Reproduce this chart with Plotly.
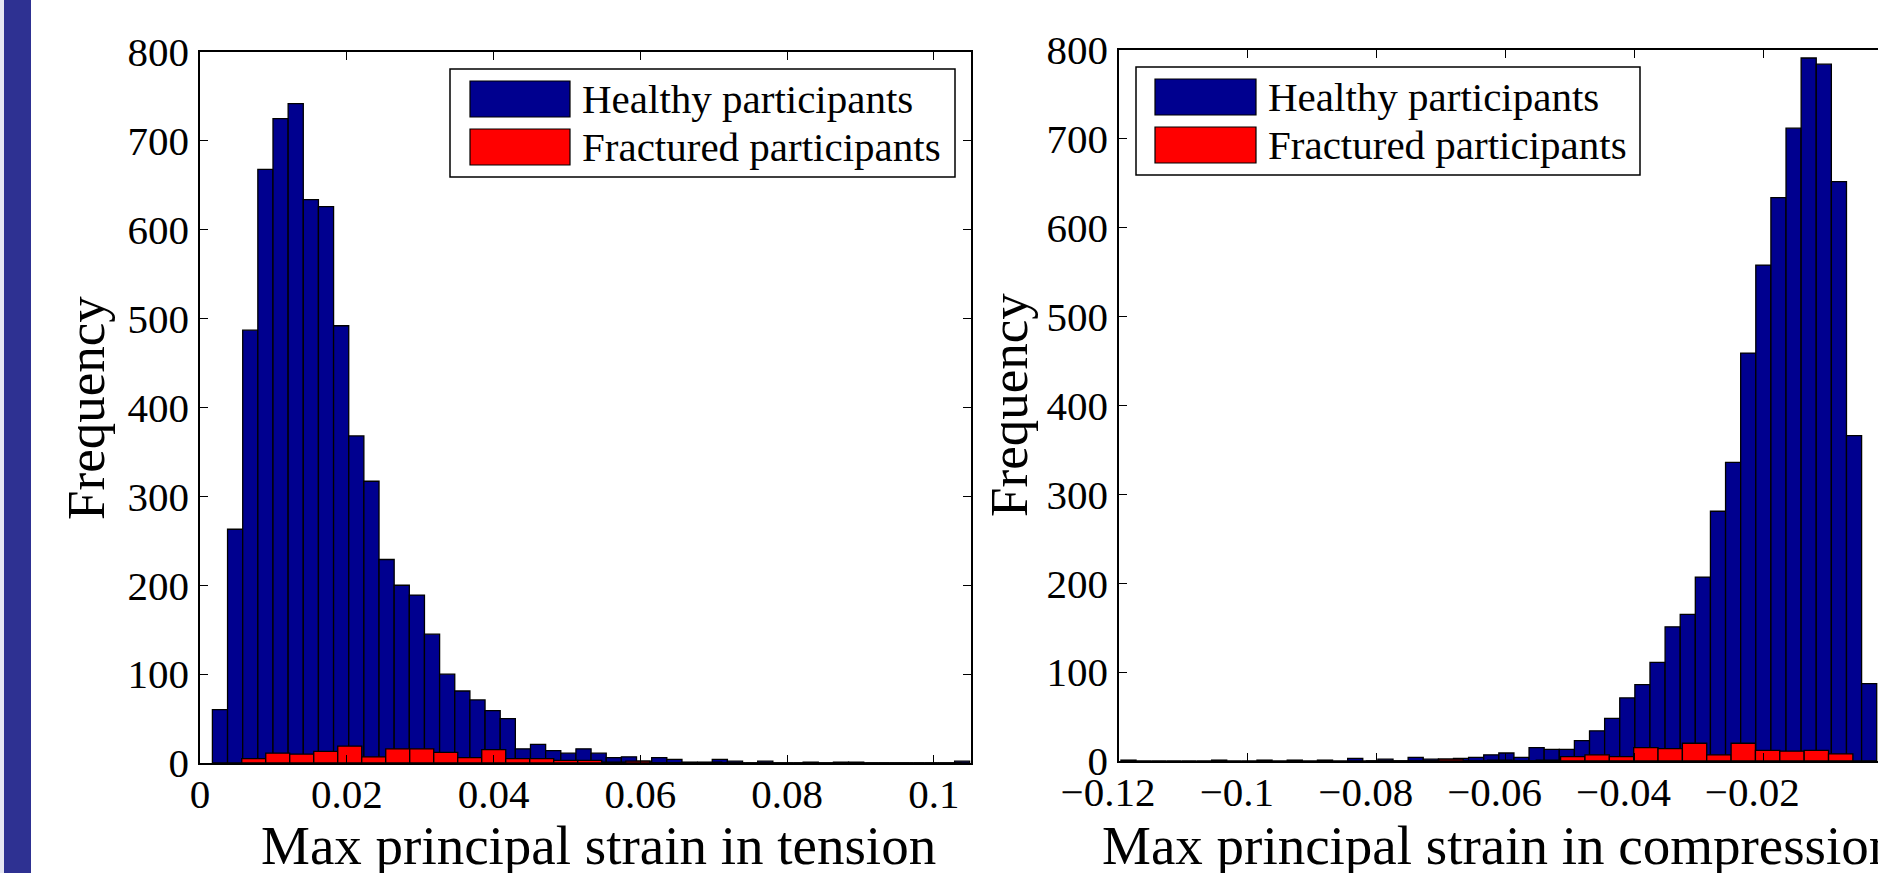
import numpy as np
import plotly.graph_objects as go

W, H = 1878, 873

# ---------------- data ----------------
# Left panel: max principal strain in tension (50 healthy bins, 30 fractured bins)
tension_healthy_range = (0.00169, 0.1049)
tension_healthy_counts = [60, 263, 487, 668, 725, 742, 634, 626, 492, 368,
                          317, 229, 200, 189, 145, 100, 81, 71, 59, 50,
                          16, 21, 14, 11, 16, 11, 6, 7, 2, 6,
                          4, 1, 0, 4, 2, 0, 2, 0, 0, 1,
                          0, 1, 1, 0, 0, 0, 0, 0, 0, 2]
tension_fractured_range = (0.00569, 0.1038)
tension_fractured_counts = [5, 11, 10, 13, 19, 7, 16, 16, 12, 6,
                            15, 5, 5, 3, 3, 1, 2, 0, 0, 1,
                            0, 0, 0, 0, 0, 0, 0, 0, 0, 0]

# Right panel: max principal strain in compression
compression_healthy_range = (-0.1197, -0.0024)
compression_healthy_counts = [1, 0, 0, 0, 0, 0, 1, 0, 0, 1,
                              0, 1, 0, 1, 0, 3, 0, 2, 0, 4,
                              2, 2, 3, 4, 7, 9, 4, 15, 13, 13,
                              23, 34, 48, 71, 86, 111, 151, 165, 207, 281,
                              336, 459, 558, 634, 712, 791, 784, 652, 366, 87]
compression_fractured_range = (-0.0817, -0.0061)
compression_fractured_counts = [0, 0, 0, 2, 0, 1, 0, 1, 5, 7,
                                5, 15, 14, 20, 7, 20, 12, 11, 12, 8]

tension_ticks = [0, 0.02, 0.04, 0.06, 0.08, 0.1]
tension_ticktext = ["0", "0.02", "0.04", "0.06", "0.08", "0.1"]
compression_ticks = [-0.12, -0.1, -0.08, -0.06, -0.04, -0.02, 0]
compression_ticktext = ["\u22120.12", "\u22120.1", "\u22120.08", "\u22120.06", "\u22120.04", "\u22120.02", "0"]
freq_ticks = [0, 100, 200, 300, 400, 500, 600, 700, 800]

series_names = ["Healthy participants", "Fractured participants"]
xlabels = ["Max principal strain in tension", "Max principal strain in compression"]
ylabel = "Frequency"

BLUE = "#00008F"
RED = "#FF0000"
FONT = "Liberation Serif"


def bins(rng, counts):
    n = len(counts)
    w = (rng[1] - rng[0]) / n
    centers = rng[0] + w * (np.arange(n) + 0.5)
    return centers, w


def px(x):
    return x / W


def py(y):
    return 1 - y / H


fig = go.Figure()

for (rng, counts, color, name, xa, ya) in [
    (tension_healthy_range, tension_healthy_counts, BLUE, series_names[0], "x", "y"),
    (tension_fractured_range, tension_fractured_counts, RED, series_names[1], "x", "y"),
    (compression_healthy_range, compression_healthy_counts, BLUE, series_names[0], "x2", "y2"),
    (compression_fractured_range, compression_fractured_counts, RED, series_names[1], "x2", "y2"),
]:
    c, w = bins(rng, counts)
    fig.add_trace(go.Bar(x=c, y=counts, width=w, name=name, xaxis=xa, yaxis=ya,
                         marker=dict(color=color, line=dict(color="black", width=1.3)),
                         showlegend=False))

axis_common = dict(showgrid=False, zeroline=False, showline=True, linecolor="black", linewidth=1.5,
                   ticks="inside", ticklen=8, tickwidth=1, tickcolor="black", automargin=False,
                   tickfont=dict(family=FONT, size=41, color="black"))

fig.update_layout(
    width=W, height=H, margin=dict(l=0, r=0, t=0, b=0, pad=0, autoexpand=False),
    paper_bgcolor="white", plot_bgcolor="white", barmode="overlay",
    xaxis=dict(domain=[px(200), px(970.5)], range=[0, 0.105], anchor="y", mirror="ticks",
               tickvals=tension_ticks, ticktext=tension_ticktext, ticklabelstandoff=-6, **axis_common),
    yaxis=dict(domain=[py(763), py(52)], range=[0, 800], anchor="x", mirror="ticks",
               tickvals=freq_ticks, ticklabelstandoff=1, **axis_common),
    xaxis2=dict(domain=[px(1119), 1.0], range=[-0.12, -0.0022], anchor="y2", mirror="ticks",
                tickvals=compression_ticks, ticktext=compression_ticktext, ticklabelstandoff=-6,
                ticklabelshift=-11, **axis_common),
    yaxis2=dict(domain=[py(761), py(50)], range=[0, 800], anchor="x2", mirror=False,
                tickvals=freq_ticks, ticklabelstandoff=1, **axis_common),
)

shapes = []
# left decorative strip
shapes.append(dict(type="rect", xref="paper", yref="paper", x0=0, x1=px(4), y0=0, y1=1,
                   fillcolor="#E6E7F3", line=dict(width=0), layer="below"))
shapes.append(dict(type="rect", xref="paper", yref="paper", x0=px(4), x1=px(31), y0=0, y1=1,
                   fillcolor="#2E3192", line=dict(width=0), layer="below"))

annotations = []
# legends (drawn manually to match Matlab style)
for (bx0, bx1, by0, by1, sx0, sx1, tx) in [
    (450, 955, 69, 177, 470, 570, 580),
    (1136, 1640, 67, 175, 1155, 1256, 1266),
]:
    shapes.append(dict(type="rect", xref="paper", yref="paper", x0=px(bx0), x1=px(bx1),
                       y0=py(by1), y1=py(by0), fillcolor="white",
                       line=dict(color="black", width=1.5), layer="above"))
    for i, (col, name) in enumerate(zip([BLUE, RED], series_names)):
        y0 = by0 + 12 + i * 48
        shapes.append(dict(type="rect", xref="paper", yref="paper", x0=px(sx0), x1=px(sx1),
                           y0=py(y0 + 36), y1=py(y0), fillcolor=col,
                           line=dict(color="black", width=1.2), layer="above"))
        annotations.append(dict(xref="paper", yref="paper", x=px(tx), y=py(y0 + 18),
                                xanchor="left", yanchor="middle", showarrow=False, text=name,
                                font=dict(family=FONT, size=41, color="black")))

# axis titles
annotations.append(dict(xref="paper", yref="paper", x=px(598), y=py(845), xanchor="center", yanchor="middle",
                        showarrow=False, text=xlabels[0], font=dict(family=FONT, size=55, color="black")))
annotations.append(dict(xref="paper", yref="paper", x=px(1100), y=py(845), xanchor="left", yanchor="middle",
                        showarrow=False, text=xlabels[1], font=dict(family=FONT, size=55, color="black")))
annotations.append(dict(xref="paper", yref="paper", x=px(86), y=py(408), xanchor="center", yanchor="middle",
                        showarrow=False, text=ylabel, textangle=-90,
                        font=dict(family=FONT, size=53, color="black")))
annotations.append(dict(xref="paper", yref="paper", x=px(1009), y=py(405), xanchor="center", yanchor="middle",
                        showarrow=False, text=ylabel, textangle=-90,
                        font=dict(family=FONT, size=53, color="black")))

fig.update_layout(shapes=shapes, annotations=annotations)
fig.write_html("out.html")
